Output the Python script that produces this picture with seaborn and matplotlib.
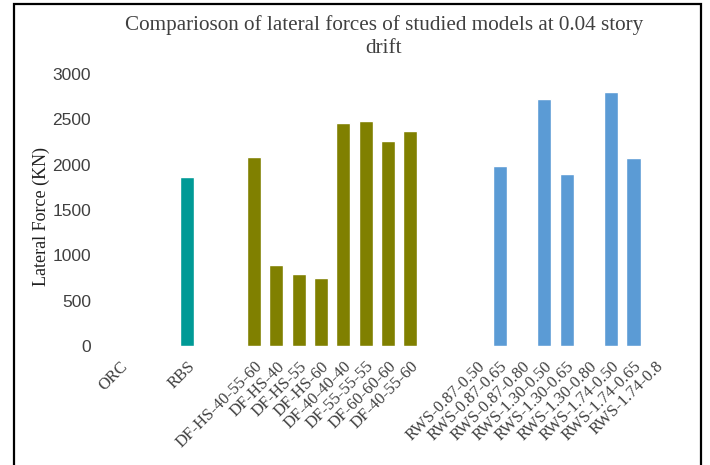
import matplotlib
matplotlib.use("Agg")
import matplotlib.pyplot as plt
import matplotlib.patches as mpatches
import seaborn as sns
import pandas as pd

# ---- data ----
frame_labels = ["ORC", "RBS"]
frame_values = [0, 1860]
df_labels = ["DF-HS-40-55-60", "DF-HS-40", "DF-HS-55", "DF-HS-60",
             "DF-40-40-40", "DF-55-55-55", "DF-60-60-60", "DF-40-55-60"]
df_values = [2085, 895, 795, 750, 2460, 2483, 2262, 2373]
rws_labels = ["RWS-0.87-0.50", "RWS-0.87-0.65", "RWS-0.87-0.80",
              "RWS-1.30-0.50", "RWS-1.30-0.65", "RWS-1.30-0.80",
              "RWS-1.74-0.50", "RWS-1.74-0.65", "RWS-1.74-0.8"]
rws_values = [0, 1980, 0, 2720, 1900, 0, 2800, 2075, 0]
group_colors = {"frame": "#009A96", "df": "#808000", "rws": "#5B9BD5"}

title = "Comparioson of lateral forces of studied models at 0.04 story\ndrift"
ylabel = "Lateral Force (KN)"

# ---- table ----
df = pd.DataFrame({
    "model": frame_labels + df_labels + rws_labels,
    "force": frame_values + df_values + rws_values,
    "group": ["frame"] * len(frame_labels) + ["df"] * len(df_labels) + ["rws"] * len(rws_labels),
})

# category order with blank spacer slots
order = ["ORC", "_g1", "_g2", "RBS", "_g3", "_g4"] + df_labels + ["_g5", "_g6"] + rws_labels

sns.set_theme(style="white")
plt.rcParams["font.family"] = ["Liberation Serif", "DejaVu Serif"]

fig = plt.figure(figsize=(7.1, 4.65), dpi=100)
ax = fig.add_axes([109 / 710, 119 / 465, (667 - 109) / 710, (346 - 74) / 465])

sns.barplot(data=df, x="model", y="force", hue="group", order=order,
            palette=group_colors, dodge=False, width=0.63, legend=False,
            saturation=1, ax=ax)

ax.set_xlim(-0.5, len(order) - 0.5)
ax.set_ylim(0, 3000)
ax.set_yticks([0, 500, 1000, 1500, 2000, 2500, 3000])
ax.set_xticks(range(len(order)))
ax.set_xticklabels(["" if o.startswith("_g") else o for o in order],
                   rotation=45, ha="right", rotation_mode="anchor",
                   fontsize=12, color="#404040", family="Liberation Serif")
for lab in ax.get_yticklabels():
    lab.set_fontfamily("Liberation Sans")
    lab.set_fontsize(12.5)
    lab.set_color("#404040")
ax.tick_params(axis="both", length=0)
ax.tick_params(axis="x", pad=9)
ax.tick_params(axis="y", pad=13)
ax.set_xlabel("")
ax.set_ylabel("")
for s in ax.spines.values():
    s.set_visible(False)

fig.text(41 / 710, 1 - 217 / 465, ylabel, rotation=90, ha="center", va="center",
         fontsize=13, color="#202020", family="Liberation Serif")
fig.text(384 / 710, 1 - 36.5 / 465, title, ha="center", va="center",
         fontsize=15.2, color="#404040", family="Liberation Serif", linespacing=1.3)

border = mpatches.Rectangle((14 / 710, -0.1), (701 - 14) / 710, 1.1 - 4 / 465,
                            transform=fig.transFigure, fill=False,
                            edgecolor="black", linewidth=1.6)
fig.patches.append(border)

fig.savefig("out.png", dpi=100)
